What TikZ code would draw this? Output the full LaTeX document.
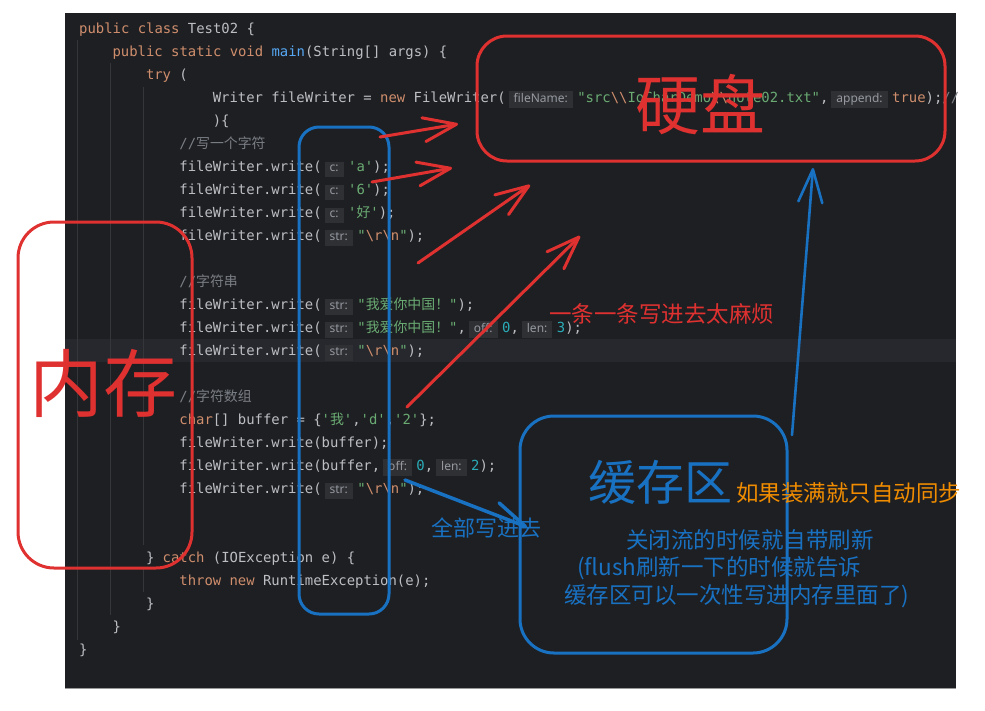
\documentclass[tikz,border=0pt]{standalone}
\usepackage{fontspec}
\setmonofont{DejaVu Sans Mono}
\newfontfamily\cjk{Noto Sans CJK SC}
\newfontfamily\hintfont{Noto Sans}
\usetikzlibrary{arrows.meta}

\definecolor{editorbg}{RGB}{30,31,34}
\definecolor{curline}{RGB}{38,40,45}
\definecolor{guide}{RGB}{52,54,58}
\definecolor{codefg}{RGB}{188,190,196}
\definecolor{kwcolor}{RGB}{207,142,109}
\definecolor{strcolor}{RGB}{106,171,115}
\definecolor{cmtcolor}{RGB}{122,126,133}
\definecolor{numcolor}{RGB}{42,172,184}
\definecolor{mthcolor}{RGB}{86,168,245}
\definecolor{hintbg}{RGB}{46,48,52}
\definecolor{hintfg}{RGB}{150,153,160}
\definecolor{penred}{RGB}{224,49,49}
\definecolor{penblue}{RGB}{25,113,194}
\definecolor{penorange}{RGB}{240,140,0}

% syntax colouring helpers
\newcommand{\kwd}[1]{\textcolor{kwcolor}{#1}}
\newcommand{\strg}[1]{\textcolor{strcolor}{#1}}
\newcommand{\cmt}[1]{\textcolor{cmtcolor}{#1}}
\newcommand{\nmb}[1]{\textcolor{numcolor}{#1}}
\newcommand{\mth}[1]{\textcolor{mthcolor}{#1}}
\newcommand{\escp}[1]{\textcolor{kwcolor}{#1}}
\newcommand{\bsl}{\textbackslash}
\newcommand{\crlf}{\strg{"}\escp{\bsl r\bsl n}\strg{"}}
\newcommand{\hnt}[1]{\hspace{3pt}{\fboxsep=2.5pt\colorbox{hintbg}{\hintfont\fontsize{12}{14}\selectfont\color{hintfg}\hspace{2.5pt}\vphantom{g}#1\hspace{2.5pt}}}\hspace{4.5pt}}
\newcommand{\codeline}[3]{\node[codeline] (ln#1) at ({79+33.4*#2},{33.5+23*#1}) {#3};}

\tikzset{
  codeline/.style={anchor=base west, inner sep=0pt, text=codefg,
    font=\fontsize{13.9}{16}\selectfont\ttfamily},
  penbox/.style={line width=3pt, rounded corners=30pt, inner sep=0pt},
  penlabel/.style={anchor=base, inner sep=0pt},
  notelabel/.style={anchor=base west, inner sep=0pt,
    font=\cjk\fontsize{22.5}{26}\selectfont},
  redarrow/.style={draw=penred, line width=3pt, line cap=round,
    -{Straight Barb[length=33pt, width=24pt, round]}},
  bluearrow/.style={draw=penblue, line width=2.6pt, line cap=round,
    -{Straight Barb[length=33pt, width=24pt, round]}}
}

\begin{document}
\begin{tikzpicture}[x=1pt, y=-1pt]
\useasboundingbox (0,0) rectangle (985,710);
\fill[white] (0,0) rectangle (985,710);

% ================= EDITOR PANEL =================
\fill[editorbg] (65,13) rectangle (956,688);
\fill[curline] (65,339) rectangle (956,362);
\draw[black!40, line width=1pt] (65,688) -- (956,688);

% indent guides
\draw[guide, line width=0.8pt] (77,40) -- (77,640);
\draw[guide, line width=0.8pt] (110,63) -- (110,615);
\draw[guide, line width=0.8pt] (143,87) -- (143,545);
\draw[guide, line width=0.8pt] (143,569) -- (143,592);

% ================= CODE =================
\codeline{0}{0}{\kwd{public class} Test02 \{}
\codeline{1}{1}{\kwd{public static void} \mth{main}(String[] args) \{}
\codeline{2}{2}{\kwd{try} (}
\codeline{3}{4}{Writer fileWriter = \kwd{new} FileWriter(\hnt{fileName:}\strg{"src}\escp{\bsl\bsl}\strg{IoCharDemo}\escp{\bsl\bsl}\strg{note02.txt"},\hnt{append:}\kwd{true});\cmt{//}}
\codeline{4}{4}{)\{}
\codeline{5}{3}{\cmt{//{\cjk 写一个字符}}}
\codeline{6}{3}{fileWriter.write(\hnt{c:}\strg{'a'});}
\codeline{7}{3}{fileWriter.write(\hnt{c:}\strg{'6'});}
\codeline{8}{3}{fileWriter.write(\hnt{c:}\strg{'{\cjk 好}'});}
\codeline{9}{3}{fileWriter.write(\hnt{str:}\crlf);}
\codeline{11}{3}{\cmt{//{\cjk 字符串}}}
\codeline{12}{3}{fileWriter.write(\hnt{str:}\strg{"{\cjk 我爱你中国！}"});}
\codeline{13}{3}{fileWriter.write(\hnt{str:}\strg{"{\cjk 我爱你中国！}"},\hnt{off:}\nmb{0},\hnt{len:}\nmb{3});}
\codeline{14}{3}{fileWriter.write(\hnt{str:}\crlf);}
\codeline{16}{3}{\cmt{//{\cjk 字符数组}}}
\codeline{17}{3}{\kwd{char}[] buffer = \{\strg{'{\cjk 我}'},\strg{'d'},\strg{'2'}\};}
\codeline{18}{3}{fileWriter.write(buffer);}
\codeline{19}{3}{fileWriter.write(buffer,\hnt{off:}\nmb{0},\hnt{len:}\nmb{2});}
\codeline{20}{3}{fileWriter.write(\hnt{str:}\crlf);}
\codeline{23}{2}{\} \kwd{catch} (IOException e) \{}
\codeline{24}{3}{\kwd{throw new} RuntimeException(e);}
\codeline{25}{2}{\}}
\codeline{26}{1}{\}}
\codeline{27}{0}{\}}

% ================= HAND-DRAWN BOXES =================
\node[penbox, draw=penred, minimum width=468pt, minimum height=125pt] (disk) at (711,98.5) {};
\node[penbox, draw=penred, rounded corners=36pt, minimum width=174pt, minimum height=346pt] (memory) at (105,395) {};
\node[penbox, draw=penblue, rounded corners=20pt, minimum width=90pt, minimum height=487pt] (writecol) at (344,370.5) {};
\node[penbox, draw=penblue, rounded corners=34pt, minimum width=267pt, minimum height=237pt] (buffer) at (653.5,534.5) {};

% ================= ARROWS =================
% one write at a time -> disk
\coordinate (w1) at (380,137); \coordinate (d1) at (458,124);
\coordinate (w2) at (372,182); \coordinate (d2) at (452,168);
\coordinate (w3) at (418,263); \coordinate (d3) at (530,185);
\coordinate (w4) at (407,407); \coordinate (d4) at (580,236);
\draw[redarrow] (w1) -- (d1);
\draw[redarrow] (w2) -- (d2);
\draw[redarrow] (w3) -- (d3);
\draw[redarrow] (w4) -- (d4);

% everything -> buffer -> disk
\coordinate (f1) at (405,480); \coordinate (b1) at (527,527);
\coordinate (b2) at (792,435); \coordinate (d5) at (813,168);
\draw[bluearrow, line width=3.5pt, -{Straight Barb[length=33pt, width=25pt, round, harpoon]}] (f1) -- (b1);
\draw[bluearrow] (b2) -- (d5);

% ================= LABELS =================
\node[penlabel, text=penred, font=\cjk\fontsize{65}{70}\selectfont] (disklabel) at (700,129) {硬盘};
\node[penlabel, text=penred, font=\cjk\fontsize{74}{80}\selectfont] (memlabel) at (103,411) {内存};
\node[penlabel, text=penblue, font=\cjk\fontsize{48}{52}\selectfont] (bufferlabel) at (660,500) {缓存区};

\node[notelabel, text=penred] (tedious) at (549,322.6) {一条一条写进去太麻烦};
\node[notelabel, text=penblue, font=\cjk\fontsize{22}{26}\selectfont] (allin) at (431,536) {全部写进去};
\node[notelabel, text=penorange] (autosync) at (736,501.6) {如果装满就只自动同步};
\node[notelabel, text=penblue] (closenote) at (626,548.6) {关闭流的时候就自带刷新};
\node[notelabel, text=penblue] (flushnote) at (577,575.6) {(flush刷新一下的时候就告诉};
\node[notelabel, text=penblue] (flushnote2) at (564,603.6) {缓存区可以一次性写进内存里面了)};

\end{tikzpicture}
\end{document}
